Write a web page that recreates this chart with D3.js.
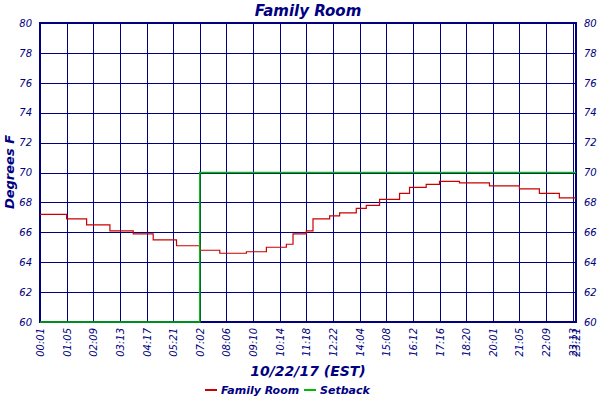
<!DOCTYPE html>
<html><head><meta charset="utf-8">
<script src="https://cdn.jsdelivr.net/npm/d3@7"></script>
<style>body{margin:0;background:#fff}</style></head>
<body><svg id="c" width="600" height="400"></svg>
<script>
const tickLabels=["00:01","01:05","02:09","03:13","04:17","05:21","07:02","08:06","09:10","10:14","11:18","12:22","14:04","15:08","16:12","17:16","18:20","20:01","21:05","22:09","23:13","23:21"];
const tickIndex=[0,8,16,24,32,40,48,56,64,72,80,88,96,104,112,120,128,136,144,152,160,161];
const familyRoom=[
67.2,67.2,67.2,67.2,67.2,67.2,67.2,67.2,
66.9,66.9,66.9,66.9,66.9,66.9,
66.5,66.5,66.5,66.5,66.5,66.5,66.5,
66.1,66.1,66.1,66.1,66.1,66.1,66.1,
65.9,65.9,65.9,65.9,65.9,65.9,
65.5,65.5,65.5,65.5,65.5,65.5,65.5,
65.1,65.1,65.1,65.1,65.1,65.1,65.1,
64.8,64.8,64.8,64.8,64.8,64.8,
64.6,64.6,64.6,64.6,64.6,64.6,64.6,64.6,
64.7,64.7,64.7,64.7,64.7,64.7,
65.0,65.0,65.0,65.0,65.0,65.0,
65.2,65.2,
65.9,65.9,65.9,65.9,
66.1,66.1,
66.9,66.9,66.9,66.9,66.9,
67.1,67.1,67.1,
67.3,67.3,67.3,67.3,67.3,
67.6,67.6,67.6,
67.8,67.8,67.8,67.8,
68.2,68.2,68.2,68.2,68.2,68.2,
68.6,68.6,68.6,
69.0,69.0,69.0,69.0,69.0,
69.2,69.2,69.2,69.2,
69.4,69.4,69.4,69.4,69.4,69.4,
69.3,69.3,69.3,69.3,69.3,69.3,69.3,69.3,69.3,
69.1,69.1,69.1,69.1,69.1,69.1,69.1,69.1,69.1,
68.9,68.9,68.9,68.9,68.9,68.9,
68.6,68.6,68.6,68.6,68.6,68.6,
68.3,68.3,68.3,68.3,68.3,68.3];
const setbackIndex=[0,48,161];
const setbackValues=[60,70,70];
const yTicks=[60,62,64,66,68,70,72,74,76,78,80];

const navy="#000080", font="'DejaVu Sans', sans-serif";
const L=40,R=576,T=23,B=322;
const svg=d3.select("#c");
const x=d3.scaleLinear().domain([0,161]).range([L,R]);
const y=d3.scaleLinear().domain([60,80]).range([B,T]);
const px=v=>Math.round(v)+0.5;

// grid
svg.append("g").attr("shape-rendering","crispEdges").selectAll("line").data(yTicks).join("line")
 .attr("x1",L).attr("x2",R).attr("y1",d=>px(y(d))).attr("y2",d=>px(y(d))).attr("stroke",navy).attr("stroke-width",1);
svg.append("g").attr("shape-rendering","crispEdges").selectAll("line").data(tickIndex).join("line")
 .attr("x1",d=>px(x(d))).attr("x2",d=>px(x(d))).attr("y1",T).attr("y2",B).attr("stroke",navy).attr("stroke-width",1);
svg.append("rect").attr("shape-rendering","crispEdges").attr("x",L).attr("y",T).attr("width",R-L).attr("height",B-T).attr("fill","none").attr("stroke",navy).attr("stroke-width",2);

// axes labels
const yl=d3.axisLeft(y).tickValues(yTicks).tickSize(0).tickPadding(8);
const gl=svg.append("g").attr("transform",`translate(${L},0)`).call(yl);
const yr=d3.axisRight(y).tickValues(yTicks).tickSize(0).tickPadding(8);
const gr=svg.append("g").attr("transform",`translate(${R},0)`).call(yr);
[gl,gr].forEach(g=>{g.select(".domain").remove();g.selectAll("text").attr("fill",navy).style("font",`italic 10px ${font}`);});

svg.append("g").selectAll("text").data(tickIndex).join("text")
 .attr("transform",(d,i)=>`translate(${x(d)+4},${B+6}) rotate(-90)`)
 .attr("text-anchor","end").attr("fill",navy).style("font",`italic 10px ${font}`)
 .text((d,i)=>tickLabels[i]);

// series
const step=d3.line().x((d,i)=>x(i)).y(d=>y(d)).curve(d3.curveStepAfter);
svg.append("path").attr("d",step(familyRoom)).attr("fill","none").attr("stroke","#cc0000").attr("stroke-width",1.2);
const sb=d3.line().x(d=>x(d[0])).y(d=>y(d[1])).curve(d3.curveStepAfter);
svg.append("path").attr("d",sb(setbackIndex.map((d,i)=>[d,setbackValues[i]]))).attr("fill","none").attr("stroke","#00bb00").attr("stroke-width",1.5);

// titles
svg.append("text").attr("x",308).attr("y",16).attr("text-anchor","middle").attr("fill",navy).style("font",`italic bold 15px ${font}`).text("Family Room");
svg.append("text").attr("x",308).attr("y",376).attr("text-anchor","middle").attr("fill",navy).style("font",`italic bold 14px ${font}`).text("10/22/17 (EST)");
svg.append("text").attr("transform","translate(14,172) rotate(-90)").attr("text-anchor","middle").attr("fill",navy).style("font",`italic bold 13px ${font}`).text("Degrees F");

// legend
const leg=[["Family Room","#cc0000",205],["Setback","#00bb00",304]];
leg.forEach(([t,c,lx])=>{
 svg.append("line").attr("x1",lx).attr("x2",lx+12).attr("y1",390).attr("y2",390).attr("stroke",c).attr("stroke-width",2);
 svg.append("text").attr("x",lx+16).attr("y",394).attr("fill",navy).style("font",`italic bold 11px ${font}`).text(t);
});
</script></body></html>
